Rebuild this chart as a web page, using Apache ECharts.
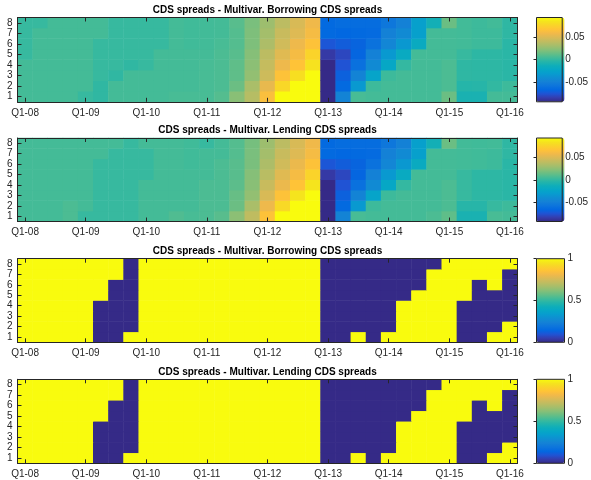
<!DOCTYPE html>
<html><head><meta charset="utf-8">
<script src="https://cdn.jsdelivr.net/npm/echarts@6/dist/echarts.min.js"></script>
<style>html,body{margin:0;padding:0;background:#fff}#c{width:591px;height:480px}</style>
</head><body><div id="c"></div>
<script>
// ---------------- data ----------------
const quarters = ['Q1-08','Q2-08','Q3-08','Q4-08','Q1-09','Q2-09','Q3-09','Q4-09',
  'Q1-10','Q2-10','Q3-10','Q4-10','Q1-11','Q2-11','Q3-11','Q4-11',
  'Q1-12','Q2-12','Q3-12','Q4-12','Q1-13','Q2-13','Q3-13','Q4-13',
  'Q1-14','Q2-14','Q3-14','Q4-14','Q1-15','Q2-15','Q3-15','Q4-15','Q1-16'];
const rowLabels = ['1','2','3','4','5','6','7','8'];
const titles = [
  'CDS spreads - Multivar. Borrowing CDS spreads',
  'CDS spreads - Multivar. Lending CDS spreads',
  'CDS spreads - Multivar. Borrowing CDS spreads',
  'CDS spreads - Multivar. Lending CDS spreads'
];
const spreadRange = [-0.094, 0.094];
const spreadTicks = [-0.05, 0, 0.05];
const signifRange = [0, 1];
const signifTicks = [0, 0.5, 1];

// one entry per quarter, values for rows 1..8
const borrowCols = [
  [.005,.005,.005,.005,.001,.001,.001,.001],
  [.005,.005,.005,.005,.005,.005,.005,.001],
  [.005,.005,.005,.005,.005,.005,.005,.005],
  [.005,.005,.005,.005,.005,.005,.005,.005],
  [.001,.005,.005,.005,.005,.005,.005,.005],
  [-.001,-.001,.001,.001,.001,.001,.005,.005],
  [.005,.005,-.001,.001,.001,.001,.001,.001],
  [.005,.005,.005,-.001,.001,.001,.001,.001],
  [.005,.005,.005,.001,.001,.001,.001,.001],
  [.005,.005,.005,.005,.005,.001,.001,.001],
  [.006,.005,.005,.005,.005,.005,.005,.005],
  [.006,.005,.005,.005,.005,.004,.004,.004],
  [.006,.006,.006,.006,.005,.0045,.0045,.0045],
  [.009,.007,.007,.007,.007,.006,.005,.005],
  [.023,.015,.012,.012,.010,.009,.009,.010],
  [.037,.033,.026,.024,.022,.020,.020,.019],
  [.064,.055,.045,.042,.039,.034,.031,.029],
  [.094,.078,.066,.057,.052,.046,.043,.039],
  [.094,.094,.082,.067,.061,.057,.051,.049],
  [.094,.094,.094,.084,.076,.066,.061,.058],
  [-.094,-.094,-.094,-.094,-.087,-.075,-.066,-.066],
  [-.048,-.066,-.070,-.076,-.081,-.072,-.067,-.064],
  [.006,-.033,-.048,-.061,-.068,-.069,-.066,-.064],
  [.005,.003,-.025,-.043,-.049,-.060,-.065,-.064],
  [.005,.005,.003,-.022,-.033,-.046,-.049,-.057],
  [.005,.005,.005,.000,-.019,-.034,-.043,-.049],
  [.005,.005,.005,.005,.005,-.018,-.028,-.028],
  [.005,.005,.005,.005,.005,.005,.005,-.012],
  [.015,.007,.007,.007,.005,.005,.005,.015],
  [-.009,-.0045,-.0015,-.0015,.001,.0045,.0045,.0045],
  [-.009,-.004,-.002,-.002,-.002,.003,.003,.003],
  [.005,-.0005,-.002,-.002,-.002,.003,.003,.0045],
  [.005,.003,-.003,-.003,-.003,-.003,-.0015,-.0015]
];
const lendCols = [
  [.005,.005,.005,.005,.005,.005,.005,.005],
  [.005,.005,.005,.005,.005,.005,.005,.005],
  [.005,.005,.005,.005,.005,.005,.005,.005],
  [.007,.007,.005,.005,.005,.005,.005,.005],
  [.001,.005,.005,.005,.005,.005,.005,.005],
  [.001,.001,.001,.001,.001,.001,.005,.005],
  [.001,.001,.001,.001,.001,.001,.001,.005],
  [.001,.001,.001,.001,.001,.001,.001,.001],
  [.005,.005,.005,.005,.001,.001,.001,.005],
  [.005,.005,.005,.005,.005,.005,.005,.005],
  [.008,.005,.005,.005,.005,.005,.005,.005],
  [.006,.005,.005,.005,.005,.004,.004,.004],
  [.007,.007,.007,.007,.005,.005,.005,.001],
  [.010,.007,.007,.007,.007,.007,.005,.005],
  [.024,.015,.014,.011,.010,.010,.009,.009],
  [.040,.033,.026,.023,.022,.019,.019,.018],
  [.066,.057,.049,.043,.038,.034,.031,.029],
  [.094,.079,.066,.056,.052,.046,.043,.039],
  [.094,.094,.085,.067,.061,.056,.051,.049],
  [.094,.094,.094,.085,.076,.066,.061,.058],
  [-.094,-.094,-.094,-.094,-.087,-.075,-.066,-.066],
  [-.048,-.066,-.070,-.076,-.081,-.072,-.067,-.064],
  [.006,-.033,-.048,-.061,-.068,-.069,-.066,-.064],
  [.005,.003,-.025,-.043,-.049,-.060,-.065,-.064],
  [.005,.005,.003,-.022,-.033,-.046,-.049,-.057],
  [.005,.005,.005,.000,-.019,-.034,-.043,-.049],
  [.005,.005,.005,.005,.005,-.018,-.028,-.028],
  [.007,.005,.005,.005,.005,.005,.005,-.012],
  [.012,.007,.007,.007,.005,.005,.005,.015],
  [-.009,-.004,.001,.001,.001,.0045,.0045,.0045],
  [-.009,-.004,-.002,-.002,-.002,.004,.004,.004],
  [.006,.001,-.002,-.002,-.002,.003,.003,.0045],
  [.005,.003,-.003,-.003,-.003,-.003,-.0015,-.0015]
];
// rows 1..8, one value per quarter
const borrowSignifRows = [
  [1,1,1,1,1,0,0,1,1,1,1,1,1,1,1,1,1,1,1,1,0,0,1,0,1,1,1,1,1,0,0,1,1],
  [1,1,1,1,1,0,0,0,1,1,1,1,1,1,1,1,1,1,1,1,0,0,0,0,0,1,1,1,1,0,0,0,1],
  [1,1,1,1,1,0,0,0,1,1,1,1,1,1,1,1,1,1,1,1,0,0,0,0,0,1,1,1,1,0,0,0,0],
  [1,1,1,1,1,0,0,0,1,1,1,1,1,1,1,1,1,1,1,1,0,0,0,0,0,1,1,1,1,0,0,0,0],
  [1,1,1,1,1,1,0,0,1,1,1,1,1,1,1,1,1,1,1,1,0,0,0,0,0,0,1,1,1,1,0,0,0],
  [1,1,1,1,1,1,0,0,1,1,1,1,1,1,1,1,1,1,1,1,0,0,0,0,0,0,0,1,1,1,0,1,0],
  [1,1,1,1,1,1,1,0,1,1,1,1,1,1,1,1,1,1,1,1,0,0,0,0,0,0,0,1,1,1,1,1,0],
  [1,1,1,1,1,1,1,0,1,1,1,1,1,1,1,1,1,1,1,1,0,0,0,0,0,0,0,0,1,1,1,1,1]
];
const lendSignifRows = [
  [1,1,1,1,1,0,0,1,1,1,1,1,1,1,1,1,1,1,1,1,0,0,1,0,1,1,1,1,1,0,0,1,1],
  [1,1,1,1,1,0,0,0,1,1,1,1,1,1,1,1,1,1,1,1,0,0,0,0,0,1,1,1,1,0,0,0,1],
  [1,1,1,1,1,0,0,0,1,1,1,1,1,1,1,1,1,1,1,1,0,0,0,0,0,1,1,1,1,0,0,0,0],
  [1,1,1,1,1,0,0,0,1,1,1,1,1,1,1,1,1,1,1,1,0,0,0,0,0,1,1,1,1,0,0,0,0],
  [1,1,1,1,1,1,0,0,1,1,1,1,1,1,1,1,1,1,1,1,0,0,0,0,0,0,1,1,1,1,0,0,0],
  [1,1,1,1,1,1,0,0,1,1,1,1,1,1,1,1,1,1,1,1,0,0,0,0,0,0,0,1,1,1,0,1,0],
  [1,1,1,1,1,1,1,0,1,1,1,1,1,1,1,1,1,1,1,1,0,0,0,0,0,0,0,1,1,1,1,1,0],
  [1,1,1,1,1,1,1,0,1,1,1,1,1,1,1,1,1,1,1,1,0,0,0,0,0,0,0,0,1,1,1,1,1]
];

// ---------------- build ----------------
const parula = ['#352a87','#353dad','#2053d4','#0268e1','#0d75dc','#1481d6','#108ed2',
  '#079ccf','#06a7c6','#0faeb9','#25b5a9','#42bb98','#65be86','#87bf77','#a5be6b',
  '#c0bc60','#d9ba56','#f1b94a','#ffc337','#fad32a','#f5e41d','#f9fb0e'];

function fromCols(cols){ const d=[]; cols.forEach((c,x)=>c.forEach((v,y)=>d.push([x,y,v]))); return d; }
function fromRows(rows){ const d=[]; rows.forEach((r,y)=>r.forEach((v,x)=>d.push([x,y,v]))); return d; }

const panels = [
  {data: fromCols(borrowCols), range: spreadRange, ticks: spreadTicks},
  {data: fromCols(lendCols), range: spreadRange, ticks: spreadTicks},
  {data: fromRows(borrowSignifRows), range: signifRange, ticks: signifTicks},
  {data: fromRows(lendSignifRows), range: signifRange, ticks: signifTicks}
];

const tops = [17.5, 138, 258.7, 379.3];
const heights = [84.3, 83.5, 83.6, 84];
const L = 17.5, W = 500, CBL = 536.5, CBW = 28;
const ink = '#262626';
const font = 'Liberation Sans';

const grid=[], xAxis=[], yAxis=[], series=[], visualMap=[], title=[];
panels.forEach((p,i)=>{
  grid.push({left:L, top:tops[i], width:W, height:heights[i]});
  const axLine = {show:true, onZero:false, lineStyle:{color:ink, width:1}};
  const xb = xAxis.length;
  xAxis.push({type:'category', gridIndex:i, data:quarters, position:'bottom', z:5,
    axisLine:axLine, axisTick:{show:true, inside:true, interval:3, alignWithLabel:true, length:4, lineStyle:{color:ink}},
    axisLabel:{interval:3, fontSize:10, color:ink, margin:6, fontFamily:font}, splitLine:{show:false}});
  xAxis.push({type:'category', gridIndex:i, data:quarters, position:'top', z:5,
    axisLine:axLine, axisTick:{show:true, inside:true, interval:3, alignWithLabel:true, length:4, lineStyle:{color:ink}},
    axisLabel:{show:false}, splitLine:{show:false}});
  const yl = yAxis.length;
  yAxis.push({type:'category', gridIndex:i, data:rowLabels, position:'left', z:5,
    axisLine:axLine, axisTick:{show:true, inside:true, interval:0, alignWithLabel:true, length:4, lineStyle:{color:ink}},
    axisLabel:{interval:0, fontSize:10, color:ink, margin:5, fontFamily:font}, splitLine:{show:false}});
  yAxis.push({type:'category', gridIndex:i, data:rowLabels, position:'right', z:5,
    axisLine:axLine, axisTick:{show:true, inside:true, interval:0, alignWithLabel:true, length:4, lineStyle:{color:ink}},
    axisLabel:{show:false}, splitLine:{show:false}});
  series.push({type:'heatmap', xAxisIndex:xb, yAxisIndex:yl, data:p.data,
    itemStyle:{borderWidth:0}, emphasis:{disabled:true}, silent:true, progressive:0});
  visualMap.push({type:'continuous', seriesIndex:i, min:p.range[0], max:p.range[1],
    inRange:{color:parula}, calculable:false, orient:'vertical', left:CBL, top:tops[i],
    itemWidth:CBW, itemHeight:heights[i], padding:0, text:null, hoverLink:false});
  title.push({text:titles[i], left:L+W/2, top:tops[i]-12.5, textAlign:'center', padding:0,
    textStyle:{fontSize:10, fontWeight:'bold', color:'#000', fontFamily:font}});
});
// colorbar frames and tick labels
panels.forEach((p,i)=>{
  const g = grid.length;
  grid.push({left:CBL, top:tops[i], width:CBW, height:heights[i], show:true, z:10,
    borderColor:ink, borderWidth:1, backgroundColor:'transparent'});
  xAxis.push({type:'value', gridIndex:g, min:0, max:1, show:false});
  yAxis.push({type:'value', gridIndex:g, min:p.range[0], max:p.range[1], position:'right', z:10,
    axisLine:{show:false}, splitLine:{show:false},
    axisTick:{show:true, inside:true, length:3, customValues:p.ticks, lineStyle:{color:ink}},
    axisLabel:{show:true, customValues:p.ticks, fontSize:10, color:ink, margin:3, fontFamily:font,
      formatter:(v)=>String(+v.toFixed(3))}});
});

const chart = echarts.init(document.getElementById('c'), null, {renderer:'canvas'});
chart.setOption({animation:false, backgroundColor:'#fff', title, grid, xAxis, yAxis, visualMap, series});
</script>
</body></html>
